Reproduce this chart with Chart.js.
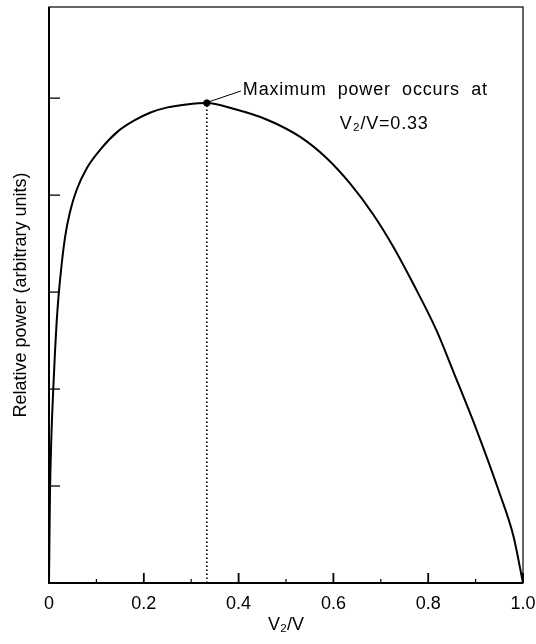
<!DOCTYPE html>
<html><head><meta charset="utf-8">
<script src="https://cdn.jsdelivr.net/npm/chart.js@4/dist/chart.umd.min.js"></script>
<style>html,body{margin:0;padding:0;background:#fff}canvas{display:block}</style>
</head><body>
<canvas id="c" width="536" height="644"></canvas>
<script>
// ---- data ----
const ratio = [0, 0.002, 0.005, 0.009, 0.013, 0.016, 0.020, 0.027, 0.034, 0.044, 0.058, 0.080, 0.110, 0.146, 0.180, 0.213, 0.250, 0.290, 0.333, 0.389, 0.459, 0.530, 0.586, 0.635, 0.684, 0.726, 0.769, 0.818, 0.853, 0.902, 0.951, 0.980, 1.000];
const power = [0, 0.90, 1.50, 2.00, 2.42, 2.68, 2.95, 3.30, 3.57, 3.82, 4.05, 4.28, 4.48, 4.66, 4.77, 4.85, 4.905, 4.935, 4.95, 4.89, 4.78, 4.60, 4.38, 4.12, 3.80, 3.47, 3.08, 2.60, 2.18, 1.58, 0.92, 0.48, 0.00];
const xTickLabels = ['0', '0.2', '0.4', '0.6', '0.8', '1.0'];
const xMinorTicks = [0.1, 0.3, 0.5, 0.7, 0.9];
const yTickValues = [1, 2, 3, 4, 5];
const peakRatio = [0.333];
const peakPower = [4.95];
const noteLines = ['Maximum power occurs at', 'V\u2082/V=0.33'];
const xTitle = 'V\u2082/V';
const yTitle = 'Relative power (arbitrary units)';

const FONT = '"Liberation Sans", Arial, Helvetica, sans-serif';

const framePlugin = {
  id: 'frame',
  afterDraw(chart) {
    const {ctx, chartArea: a, scales: {x, y}} = chart;
    ctx.save();
    ctx.strokeStyle = '#000';
    // frame
    ctx.lineWidth = 1.2;
    ctx.strokeRect(a.left, a.top, a.right - a.left, a.bottom - a.top);
    ctx.lineWidth = 2;
    ctx.beginPath();
    ctx.moveTo(a.left, a.top); ctx.lineTo(a.left, a.bottom); ctx.lineTo(a.right, a.bottom);
    ctx.stroke();
    // x major ticks (inward)
    ctx.lineWidth = 1.8;
    x.ticks.forEach(t => {
      const px = x.getPixelForValue(t.value);
      ctx.beginPath(); ctx.moveTo(px, a.bottom); ctx.lineTo(px, a.bottom - 10); ctx.stroke();
    });
    ctx.lineWidth = 1.2;
    xMinorTicks.forEach(v => {
      const px = x.getPixelForValue(v);
      ctx.beginPath(); ctx.moveTo(px, a.bottom); ctx.lineTo(px, a.bottom - 4); ctx.stroke();
    });
    // y ticks (inward)
    ctx.lineWidth = 1.3;
    yTickValues.forEach(v => {
      const py = y.getPixelForValue(v);
      ctx.beginPath(); ctx.moveTo(a.left, py); ctx.lineTo(a.left + 11, py); ctx.stroke();
    });
    // leader line and note
    const dx = x.getPixelForValue(peakRatio[0]);
    const dy = y.getPixelForValue(peakPower[0]);
    ctx.lineWidth = 1;
    ctx.beginPath(); ctx.moveTo(dx + 3, dy - 1.5); ctx.lineTo(dx + 34, dy - 12); ctx.stroke();
    ctx.fillStyle = '#000';
    ctx.font = '18px ' + FONT;
    ctx.textBaseline = 'middle';
    ctx.textAlign = 'left';
    try { ctx.wordSpacing = '5.5px'; ctx.letterSpacing = '0.8px'; } catch (e) {}
    ctx.fillText(noteLines[0], dx + 36, dy - 13);
    ctx.fillText(noteLines[1], dx + 133, dy + 21);
    ctx.restore();
  }
};

new Chart(document.getElementById('c'), {
  type: 'scatter',
  data: {
    datasets: [
      {
        data: ratio.map((v, i) => ({x: v, y: power[i]})),
        showLine: true, borderColor: '#000', borderWidth: 2, pointRadius: 0,
        cubicInterpolationMode: 'monotone', fill: false, order: 1
      },
      {
        data: [{x: peakRatio[0], y: 0}, {x: peakRatio[0], y: peakPower[0]}],
        showLine: true, borderColor: '#000', borderWidth: 1.6, borderDash: [1.6, 2.4],
        pointRadius: 0, fill: false, order: 2
      },
      {
        data: [{x: peakRatio[0], y: peakPower[0]}],
        pointRadius: 3.2, backgroundColor: '#000', borderColor: '#000', order: 0
      }
    ]
  },
  options: {
    responsive: false, animation: false, devicePixelRatio: 1,
    layout: {padding: {top: 7, right: 13, left: 0, bottom: 0}},
    plugins: {legend: {display: false}, tooltip: {enabled: false}},
    scales: {
      x: {
        type: 'linear', min: 0, max: 1,
        afterBuildTicks: s => { s.ticks = xTickLabels.map(l => ({value: parseFloat(l)})); },
        afterFit: s => { s.height = 61; s.paddingLeft = 0; s.paddingRight = 0; },
        grid: {display: false, drawTicks: false},
        border: {display: false},
        ticks: {
          color: '#000', padding: 10, maxRotation: 0, autoSkip: false,
          font: {family: FONT, size: 18},
          callback: (v, i) => xTickLabels[i]
        },
        title: {display: true, text: xTitle, color: '#000', font: {family: FONT, size: 18}, padding: {top: 0, bottom: 8}}
      },
      y: {
        type: 'linear', min: 0, max: 5.94,
        afterFit: s => { s.width = 49; s.paddingTop = 0; s.paddingBottom = 0; },
        grid: {display: false, drawTicks: false},
        border: {display: false},
        ticks: {display: false},
        title: {display: true, text: yTitle, color: '#000', font: {family: FONT, size: 18}, padding: {top: 10, bottom: 0}}
      }
    }
  },
  plugins: [framePlugin]
});
</script>
</body></html>
